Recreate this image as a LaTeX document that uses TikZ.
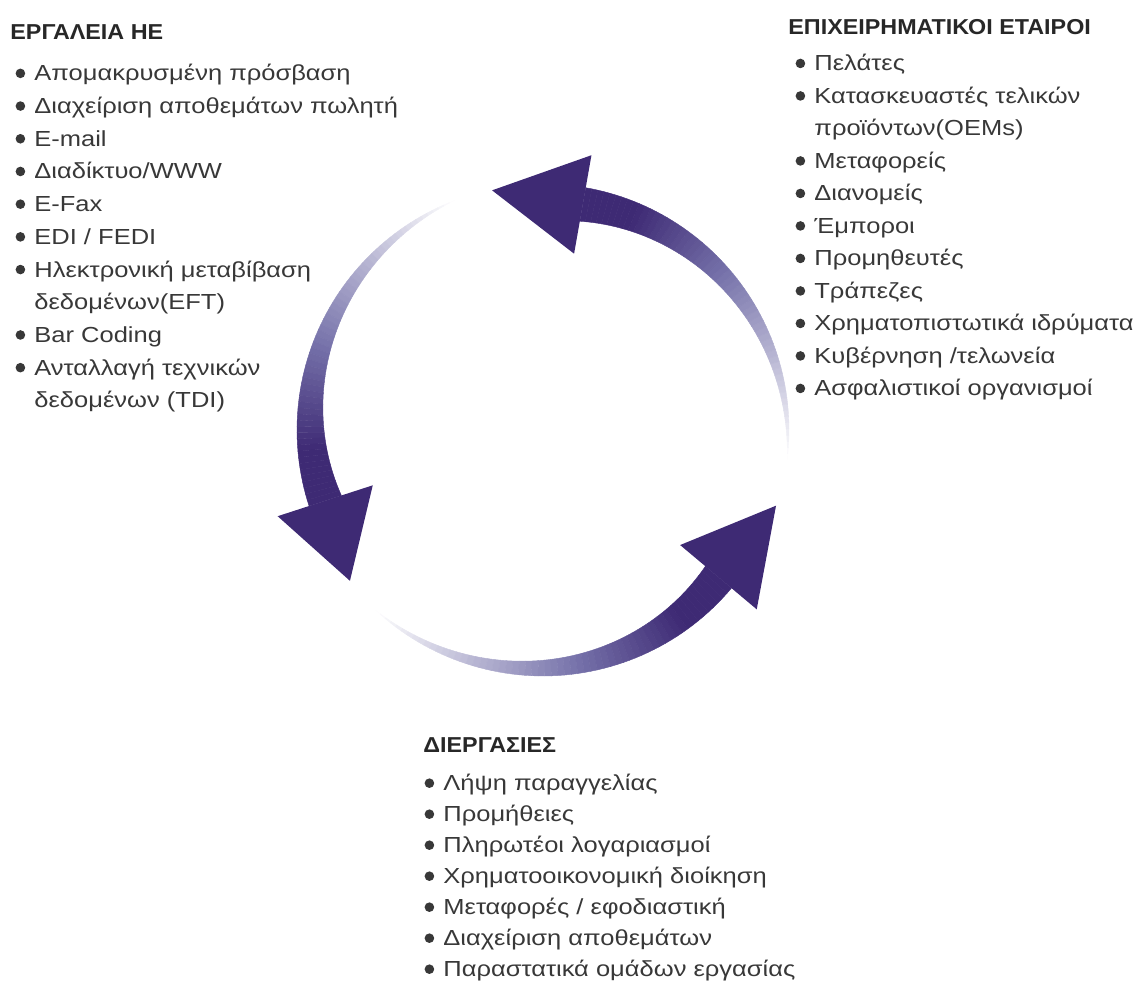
\documentclass[tikz,border=0pt]{standalone}
\usepackage{fontspec}
\setmainfont{Liberation Sans}[FakeStretch=1.17]
\newfontfamily\headfont{Liberation Sans}[FakeStretch=1.08]
\usetikzlibrary{positioning}
\definecolor{ink}{HTML}{383838}
\definecolor{arrowpurple}{HTML}{3E2A74}
\definecolor{midtone}{HTML}{7672AA}

% ring geometry (picture units)
\newcommand{\outerrad}{246}
\newcommand{\headthick}{34}

% list bullet
\newcommand{\itemdot}{\tikz[baseline=-3.75pt]\fill[ink] (0,0) circle (2.4pt);}

% one curved arrow of the ring: #1 tail angle, #2 head base angle, #3 tip angle
\newcommand{\cyclearrow}[3]{%
  \foreach \i in {0,...,59}{%
    \pgfmathsetmacro\angA{#1+(#2-#1)*\i/60}
    \pgfmathsetmacro\angB{#1+(#2-#1)*(\i+1)/60}
    \pgfmathsetmacro\radA{\outerrad-\headthick*\i/60}
    \pgfmathsetmacro\radB{\outerrad-\headthick*(\i+1)/60}
    \pgfmathsetmacro\t{(\i+0.5)/60}
    \pgfmathtruncatemacro\pa{min(100,100*\t/0.55)}
    \pgfmathtruncatemacro\pb{max(0,min(100,100*(\t-0.55)/0.3))}
    \colorlet{slicecol}{midtone!\pa!white}
    \colorlet{slicecol}{arrowpurple!\pb!slicecol}
    \fill[slicecol, draw=slicecol, line width=0.2pt]
      (\angA:\outerrad) -- (\angB:\outerrad) -- (\angB:\radB) -- (\angA:\radA) -- cycle;
  }
  \fill[arrowpurple] (#2:{\outerrad-\headthick/2-50}) -- (#3:245)
    -- (#2:{\outerrad-\headthick/2+50}) -- cycle;
}

\begin{document}
\begin{tikzpicture}[
    x=0.5pt, y=0.5pt,
    heading/.style={anchor=base west, inner sep=0pt, text=ink!70!black,
        font=\headfont\fontsize{10.8}{13}\selectfont\bfseries},
    itemlist/.style={inner sep=0pt, text=ink, align=left},
]
\useasboundingbox (0,0) rectangle (1144,983);

% the three arrows of the cycle
\begin{scope}[shift={(543,553)}]
  \cyclearrow{-7}{80}{102}
  \cyclearrow{111}{198}{218}
  \cyclearrow{227}{320}{342}
\end{scope}

% Headings
\node[heading] (tools_title) at (10,943) {ΕΡΓΑΛΕΙΑ ΗΕ};
\node[heading] (partners_title) at (788,948) {ΕΠΙΧΕΙΡΗΜΑΤΙΚΟΙ ΕΤΑΙΡΟΙ};
\node[heading] (proc_title) at (423,230) {ΔΙΕΡΓΑΣΙΕΣ};

% Lists
\node[itemlist, below right=8.6pt and 2.6pt of tools_title.south west,
      font=\fontsize{10.9}{16.35}\selectfont] (tools_list) {%
    \begin{tabular}[t]{@{}l@{\hspace{4.6pt}}l@{}}
    \itemdot & Απομακρυσμένη πρόσβαση\\
    \itemdot & Διαχείριση αποθεμάτων πωλητή\\
    \itemdot & E-mail\\
    \itemdot & Διαδίκτυο/WWW\\
    \itemdot & E-Fax\\
    \itemdot & EDI / FEDI\\
    \itemdot & Ηλεκτρονική μεταβίβαση\\
             & δεδομένων(EFT)\\
    \itemdot & Bar Coding\\
    \itemdot & Ανταλλαγή τεχνικών\\
             & δεδομένων (TDI)
    \end{tabular}};

\node[itemlist, below right=6.1pt and 3.6pt of partners_title.south west,
      font=\fontsize{10.9}{16.25}\selectfont] (partners_list) {%
    \begin{tabular}[t]{@{}l@{\hspace{4.6pt}}l@{}}
    \itemdot & Πελάτες\\
    \itemdot & Κατασκευαστές τελικών\\
             & προϊόντων(OEMs)\\
    \itemdot & Μεταφορείς\\
    \itemdot & Διανομείς\\
    \itemdot & Έμποροι\\
    \itemdot & Προμηθευτές\\
    \itemdot & Τράπεζες\\
    \itemdot & Χρηματοπιστωτικά ιδρύματα\\
    \itemdot & Κυβέρνηση /τελωνεία\\
    \itemdot & Ασφαλιστικοί οργανισμοί
    \end{tabular}};

\node[itemlist, below right=7.6pt and 0.6pt of proc_title.south west,
      font=\fontsize{10.9}{15.5}\selectfont] (proc_list) {%
    \begin{tabular}[t]{@{}l@{\hspace{4.6pt}}l@{}}
    \itemdot & Λήψη παραγγελίας\\
    \itemdot & Προμήθειες\\
    \itemdot & Πληρωτέοι λογαριασμοί\\
    \itemdot & Χρηματοοικονομική διοίκηση\\
    \itemdot & Μεταφορές / εφοδιαστική\\
    \itemdot & Διαχείριση αποθεμάτων\\
    \itemdot & Παραστατικά ομάδων εργασίας
    \end{tabular}};

\end{tikzpicture}
\end{document}
